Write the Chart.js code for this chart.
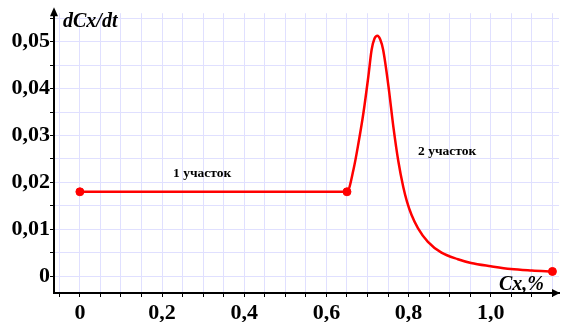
<!DOCTYPE html>
<html>
<head>
<meta charset="utf-8">
<script src="https://cdn.jsdelivr.net/npm/chart.js@4"></script>
<style>
  html, body { margin: 0; padding: 0; background: #fff; }
  canvas { display: block; }
</style>
</head>
<body>
<canvas id="chart" width="564" height="322"></canvas>
<script>
// curve: Cx (%) vs dCx/dt
const cxValues  = [0, 0.65, 0.666, 0.678, 0.69, 0.702, 0.71, 0.717, 0.724, 0.731, 0.738, 0.751, 0.763, 0.775, 0.787, 0.796, 0.807, 0.823, 0.847, 0.88, 0.92, 0.952, 1.0, 1.049, 1.1, 1.15];
const dcxValues = [0.018, 0.018, 0.0228, 0.0284, 0.0348, 0.0426, 0.0483, 0.0507, 0.0513, 0.0505, 0.0483, 0.0405, 0.0318, 0.0245, 0.019, 0.0159, 0.0131, 0.0102, 0.0073, 0.005, 0.0036, 0.0028, 0.0021, 0.0015, 0.0012, 0.001];

// marked points (section boundaries)
const markCx  = [0, 0.65, 1.15];
const markDcx = [0.018, 0.018, 0.001];

const xTickValues = [0, 0.2, 0.4, 0.6, 0.8, 1.0];
const xTickLabels = ['0', '0,2', '0,4', '0,6', '0,8', '1,0'];
const yTickValues = [0, 0.01, 0.02, 0.03, 0.04, 0.05];
const yTickLabels = ['0', '0,01', '0,02', '0,03', '0,04', '0,05'];

const sectionLabels = ['1 участок', '2 участок'];
const yTitle = 'dCx/dt';
const xTitle = 'Cx,%';

const SERIF = '"Liberation Serif", "DejaVu Serif", serif';
const RED = '#ff0000';
const GRID = '#e0e0ff';

function labelFor(v, values, labels) {
  for (let i = 0; i < values.length; i++) {
    if (Math.abs(v - values[i]) < 1e-6) return labels[i];
  }
  return '';
}

function minorTicks(from, to, step) {
  const out = [];
  const n = Math.round((to - from) / step);
  for (let i = 0; i <= n; i++) out.push({ value: +(from + i * step).toFixed(4) });
  return out;
}

const decorPlugin = {
  id: 'decor',
  afterDraw(chart) {
    const ctx = chart.ctx;
    const a = chart.chartArea;
    ctx.save();
    ctx.fillStyle = '#000';
    // arrow on y axis
    ctx.beginPath();
    ctx.moveTo(a.left, a.top - 6);
    ctx.lineTo(a.left - 4, a.top + 3);
    ctx.lineTo(a.left + 4, a.top + 3);
    ctx.closePath();
    ctx.fill();
    // arrow on x axis
    ctx.beginPath();
    ctx.moveTo(a.right + 1, a.bottom);
    ctx.lineTo(a.right - 7, a.bottom - 4);
    ctx.lineTo(a.right - 7, a.bottom + 4);
    ctx.closePath();
    ctx.fill();

    ctx.textBaseline = 'alphabetic';
    ctx.textAlign = 'left';
    ctx.font = 'italic bold 20px ' + SERIF;
    ctx.fillText(yTitle, 63, 27);
    ctx.fillText(xTitle, 499, 290);

    ctx.font = 'bold 13.5px ' + SERIF;
    ctx.fillText(sectionLabels[0], 173, 177);
    ctx.fillText(sectionLabels[1], 418, 155);
    ctx.restore();
  }
};

new Chart(document.getElementById('chart'), {
  type: 'scatter',
  data: {
    datasets: [
      {
        data: cxValues.map((x, i) => ({ x, y: dcxValues[i] })),
        showLine: true,
        borderColor: RED,
        borderWidth: 2.5,
        pointRadius: 0,
        cubicInterpolationMode: 'monotone'
      },
      {
        data: markCx.map((x, i) => ({ x, y: markDcx[i] })),
        showLine: false,
        pointRadius: 4,
        pointBackgroundColor: RED,
        pointBorderColor: RED
      }
    ]
  },
  options: {
    responsive: false,
    animation: false,
    layout: { padding: { top: 13, right: 1, left: 0, bottom: 0 } },
    plugins: {
      legend: { display: false },
      tooltip: { enabled: false }
    },
    scales: {
      x: {
        type: 'linear',
        min: -0.063,
        max: 1.166,
        afterBuildTicks: s => { s.ticks = minorTicks(-0.05, 1.15, 0.05); },
        afterFit: s => { s.height = 29; },
        grid: { color: GRID, lineWidth: 1, tickColor: '#000', tickLength: 4 },
        border: { color: '#000', width: 2 },
        ticks: {
          autoSkip: false,
          maxRotation: 0,
          padding: 3,
          color: '#000',
          font: { family: SERIF, size: 22, weight: 'bold' },
          callback: v => labelFor(v, xTickValues, xTickLabels)
        }
      },
      y: {
        type: 'linear',
        min: -0.0036,
        max: 0.0561,
        afterBuildTicks: s => { s.ticks = minorTicks(0, 0.055, 0.005); },
        afterFit: s => { s.width = 54; },
        grid: { color: GRID, lineWidth: 1, tickColor: '#000', tickLength: 4 },
        border: { color: '#000', width: 2 },
        ticks: {
          autoSkip: false,
          padding: 0,
          color: '#000',
          font: { family: SERIF, size: 22, weight: 'bold' },
          callback: v => labelFor(v, yTickValues, yTickLabels)
        }
      }
    }
  },
  plugins: [decorPlugin]
});
</script>
</body>
</html>
